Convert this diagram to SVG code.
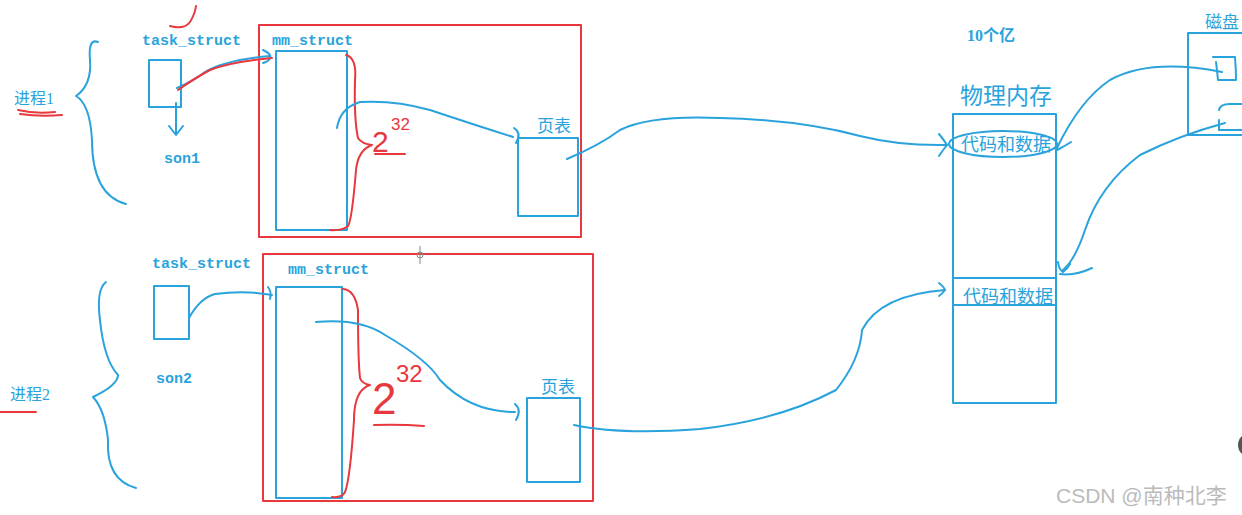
<svg xmlns="http://www.w3.org/2000/svg" width="1242" height="515" viewBox="0 0 1242 515">
<style>
.b{fill:none;stroke:#2aa3dc;stroke-width:2;stroke-linecap:round;stroke-linejoin:round}
.r{fill:none;stroke:#e8383d;stroke-width:2;stroke-linecap:round;stroke-linejoin:round}
.t{font-family:"Liberation Mono","DejaVu Sans Mono",monospace;font-size:15px;fill:#2aa3dc;font-weight:bold}
.c{font-family:"Liberation Serif","Noto Sans CJK SC",serif;fill:#2aa3dc}
.rt{font-family:"Liberation Sans",sans-serif;fill:#e8383d}
</style>
<rect width="1242" height="515" fill="#fff"/>

<g id="process1">
  <text class="c" x="14" y="104" font-size="16">进程1</text>
  <path class="r" d="M18 110 Q35 114 55 112 M20 114 Q40 117 62 115"/>
  <path class="b" d="M98 42 Q88 38 90 60 Q92 85 76 96 Q90 104 92 140 Q92 195 126 204"/>
  <path class="r" d="M170 26 Q184 30 190 22 Q195 14 196 6"/>
</g>

<g id="task1">
  <text class="t" x="142" y="45">task_struct</text>
  <rect class="b" x="149" y="60" width="32" height="47"/>
  <path class="b" d="M176 103 V134 M169 126 L176 135 L183 126"/>
  <text class="t" x="164" y="163">son1</text>
</g>

<g id="mm1">
  <rect class="r" x="259" y="25" width="322" height="212"/>
  <text class="t" x="272" y="45">mm_struct</text>
  <rect class="b" x="276" y="51" width="71" height="179"/>
  <path class="r" d="M346 55 Q357 58 355 80 Q354 120 358 138 Q362 144 372 145 Q358 150 356 170 Q352 220 348 226 Q342 231 330 230"/>
  <text class="rt" x="372" y="152" font-size="30">2</text>
  <text class="rt" x="391" y="130" font-size="17">32</text>
  <path class="r" d="M375 154 H405"/>
</g>

<g id="pt1">
  <text class="c" x="537" y="132" font-size="17">页表</text>
  <rect class="b" x="518" y="138" width="60" height="78"/>
</g>

<g id="process2">
  <text class="c" x="10" y="400" font-size="16">进程2</text>
  <path class="r" d="M0 412 H36"/>
  <path class="b" d="M106 282 Q96 290 100 320 Q104 360 118 375 Q118 385 93 397 Q105 410 108 440 Q106 480 136 488"/>
</g>

<g id="task2">
  <text class="t" x="152" y="268">task_struct</text>
  <rect class="b" x="154" y="286" width="35" height="53"/>
  <text class="t" x="156" y="383">son2</text>
</g>

<g id="mm2">
  <rect class="r" x="263" y="254" width="330" height="247"/>
  <text class="t" x="288" y="274">mm_struct</text>
  <rect class="b" x="276" y="287" width="66" height="211"/>
  <path class="r" d="M343 289 Q355 290 358 310 Q358 360 360 378 Q362 384 370 385 Q354 390 354 420 Q350 480 345 492 Q342 498 332 497"/>
  <text class="rt" x="372" y="414" font-size="44">2</text>
  <text class="rt" x="396" y="382" font-size="24">32</text>
  <path class="r" d="M374 425 Q400 424 424 426"/>
</g>

<g id="pt2">
  <text class="c" x="541" y="393" font-size="17">页表</text>
  <rect class="b" x="527" y="398" width="53" height="84"/>
</g>

<g id="memory">
  <text class="c" x="967" y="41" font-size="16" font-weight="bold">10个亿</text>
  <text class="c" x="960" y="104" font-size="23">物理内存</text>
  <rect class="b" x="953" y="114" width="103" height="289"/>
  <text class="c" x="961" y="151" font-size="18">代码和数据</text>
  <ellipse class="b" cx="1003" cy="144" rx="54" ry="13"/>
  <path class="b" d="M953 278 H1056 M953 305 H1056"/>
  <text class="c" x="963" y="303" font-size="18">代码和数据</text>
</g>

<g id="disk">
  <text class="c" x="1205" y="28" font-size="17">磁盘</text>
  <path class="b" d="M1242 33 H1188 V135 H1242"/>
  <path class="b" d="M1213 57 H1235 Q1236 70 1236 80 H1218 Q1217 70 1216 62"/>
  <path class="b" d="M1219 110 Q1220 104 1230 104 H1242 M1219 120 V130 H1242"/>
</g>

<g id="connectors">
  <path class="b" d="M177 88 Q195 80 205 72 Q225 60 270 56"/>
  <path class="b" d="M263 50 Q272 54 270 58 Q268 62 263 63"/>
  <path class="r" d="M178 90 Q195 78 210 70 Q230 62 272 58"/>
  <path class="b" d="M337 128 Q340 108 360 102 Q395 100 430 110 Q475 125 513 137"/>
  <path class="b" d="M514 128 Q522 133 516 143"/>
  <path class="b" d="M567 159 Q600 145 620 130 Q650 115 720 118 Q800 120 860 136 Q900 146 947 145"/>
  <path class="b" d="M939 134 Q944 140 947 145 Q943 150 939 156"/>
  <path class="b" d="M189 318 Q200 298 215 294 Q245 290 272 295"/>
  <path class="b" d="M268 287 Q272 292 270 299"/>
  <path class="b" d="M316 322 Q360 318 385 335 Q428 360 440 380 Q470 412 515 412"/>
  <path class="b" d="M515 404 Q522 410 516 420"/>
  <path class="b" d="M574 425 Q620 435 700 429 Q780 420 836 390 Q860 360 862 330 Q880 295 945 290"/>
  <path class="b" d="M939 283 Q944 287 945 290 Q942 294 939 296"/>
  <path class="b" d="M1057 148 Q1080 100 1110 80 Q1150 58 1222 72"/>
  <path class="b" d="M1057 150 Q1065 146 1071 142"/>
  <path class="b" d="M1225 123 Q1180 135 1140 155 Q1100 185 1085 230 Q1075 260 1063 270"/>
  <path class="b" d="M1058 262 Q1059 270 1063 272 Q1068 268 1070 264"/>
  <path class="b" d="M1060 274 Q1075 276 1092 268"/>
</g>

<g id="overlay">
  <circle cx="420" cy="255" r="3" fill="none" stroke="#888" stroke-width="1"/>
  <path d="M420 246 V264" stroke="#888" stroke-width="1"/>
  <circle cx="1250" cy="445" r="12" fill="#555"/>
  <text x="1056" y="503" font-family="'Liberation Sans','Noto Sans CJK SC',sans-serif" font-size="21" fill="#bbb">CSDN @南种北李</text>
</g>
</svg>
